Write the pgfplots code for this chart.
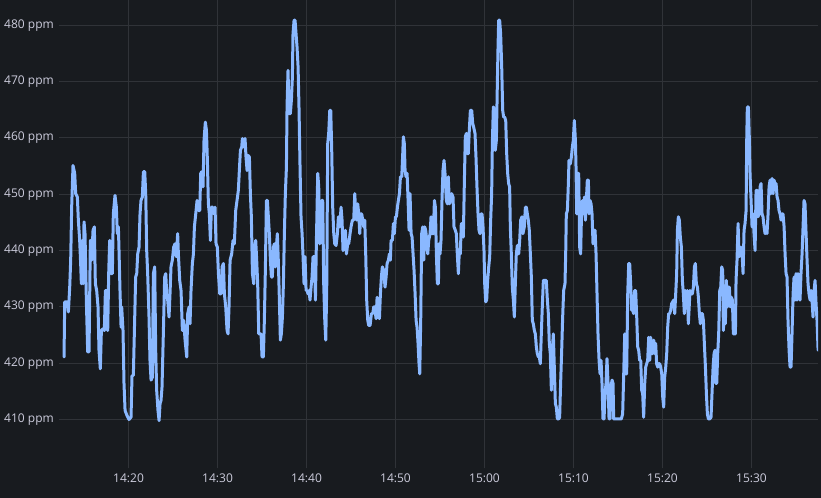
\documentclass[border=0pt]{standalone}
\usepackage{fontspec}
\setmainfont{Open Sans}
\usepackage{pgfplots}
\pgfplotsset{compat=1.18}
\definecolor{bgc}{HTML}{181B1F}
\definecolor{gridc}{HTML}{303338}
\definecolor{txtc}{HTML}{CCCCDC}
\definecolor{linec}{HTML}{8AB8FF}
\begin{document}
\begin{tikzpicture}
\fill[bgc] (-59.3pt,-29pt) rectangle (761.7pt,468pt);
\begin{axis}[
  at={(0pt,0pt)}, anchor=south west,
  scale only axis, width=758.7pt, height=468pt,
  xmin=12.22, xmax=97.47, ymin=401.3, ymax=484.4,
  axis line style={draw=none},
  major tick length=0pt,
  grid=major,
  major grid style={draw=gridc, line width=1pt},
  xtick={20,30,40,50,60,70,80,90},
  xticklabels={14:20,14:30,14:40,14:50,15:00,15:10,15:20,15:30},
  ytick={410,420,430,440,450,460,470,480},
  yticklabels={410 ppm,420 ppm,430 ppm,440 ppm,450 ppm,460 ppm,470 ppm,480 ppm},
  ticklabel style={font=\fontsize{12pt}{14pt}\selectfont, text=txtc},
  yticklabel style={xshift=-2pt},
  xticklabel style={yshift=-2pt},
  clip=true,
]
\addplot[linec, line width=3pt, line join=round, line cap=round, mark=none] table {
t v
12.75 421.1
12.83 430.9
13.13 430.9
13.24 429.1
13.39 433.5
13.5 438.3
13.61 447.7
13.76 455.1
13.95 453.7
14.06 450.1
14.25 449.5
14.36 445.4
14.51 441.8
14.62 437.7
14.7 434.1
14.81 441.8
14.89 434.1
15.0 445.1
15.11 443.0
15.26 431.2
15.41 422.0
15.56 422.0
15.71 441.8
15.86 438.3
16.01 443.6
16.16 444.2
16.27 434.1
16.42 432.9
16.57 430.0
16.68 422.3
16.83 419.0
16.95 425.8
17.13 426.1
17.28 425.8
17.4 432.9
17.55 432.9
17.66 425.8
17.77 435.9
17.88 441.8
18.03 435.9
18.18 435.9
18.29 446.5
18.48 449.8
18.63 447.7
18.74 443.0
18.86 444.2
18.93 440.0
19.04 432.9
19.16 426.4
19.23 430.0
19.38 425.8
19.49 416.4
19.61 411.6
19.83 410.7
20.05 410.0
20.28 410.4
20.39 417.8
20.54 417.8
20.65 425.2
20.8 435.3
20.92 435.9
21.03 439.4
21.18 440.6
21.29 446.5
21.4 448.9
21.55 449.5
21.67 454.0
21.82 454.0
21.93 450.1
22.04 440.0
22.15 435.9
22.3 428.2
22.41 420.5
22.53 417.0
22.68 417.5
22.79 435.9
22.94 437.1
23.05 422.3
23.16 415.2
23.31 411.6
23.43 409.8
23.54 412.8
23.65 413.4
23.76 415.7
23.91 425.2
24.06 435.3
24.18 435.9
24.29 432.3
24.4 431.2
24.55 428.2
24.66 432.3
24.77 437.1
24.92 438.3
25.07 440.6
25.22 441.2
25.37 438.9
25.52 443.0
25.6 439.4
25.75 434.7
25.9 432.9
26.05 425.8
26.2 427.6
26.35 424.1
26.54 421.1
26.65 428.8
26.8 430.0
26.91 427.0
27.02 432.9
27.17 437.7
27.29 439.4
27.4 444.2
27.55 446.5
27.7 448.9
27.85 447.1
28.0 447.1
28.11 453.7
28.22 454.0
28.37 451.3
28.48 459.6
28.63 462.8
28.75 461.4
28.86 456.0
28.97 448.3
29.08 446.5
29.2 441.8
29.31 447.7
29.46 447.7
29.61 446.5
29.72 447.7
29.83 441.2
29.98 440.6
30.1 435.9
30.25 432.3
30.39 432.3
30.51 437.1
30.66 437.7
30.77 432.3
30.92 430.0
31.07 425.8
31.18 425.2
31.29 430.0
31.41 438.3
31.59 439.4
31.74 441.8
31.89 441.2
32.04 447.1
32.19 448.9
32.34 450.7
32.45 454.2
32.57 457.8
32.72 458.4
32.79 459.9
32.94 458.4
33.09 459.9
33.2 456.6
33.32 454.2
33.43 456.9
33.58 456.6
33.69 450.1
33.8 446.0
33.92 435.9
34.07 434.1
34.18 440.6
34.29 441.8
34.4 438.3
34.51 434.1
34.63 425.2
34.78 425.2
34.89 425.2
35.0 421.1
35.15 421.1
35.26 427.6
35.38 437.1
35.49 448.9
35.6 448.9
35.71 446.0
35.82 443.0
35.94 438.3
36.05 435.3
36.16 435.3
36.28 440.6
36.39 441.2
36.5 437.1
36.61 440.6
36.72 443.0
36.84 437.7
36.95 431.2
37.06 424.1
37.17 425.2
37.29 428.2
37.4 434.1
37.51 443.0
37.62 450.1
37.74 454.8
37.81 465.5
37.92 472.0
38.04 464.3
38.18 464.3
38.3 466.7
38.41 470.8
38.48 478.5
38.6 480.9
38.71 480.9
38.82 478.5
38.93 476.2
39.05 472.6
39.16 464.9
39.27 454.8
39.38 446.0
39.5 443.0
39.61 438.9
39.72 434.1
39.83 438.9
39.95 432.9
40.06 432.9
40.17 432.3
40.28 432.9
40.39 431.2
40.51 433.5
40.62 435.3
40.73 438.9
40.88 438.9
41.0 431.2
41.11 441.8
41.26 453.7
41.37 451.3
41.48 441.2
41.6 441.8
41.71 448.9
41.82 448.9
41.93 434.1
42.05 427.6
42.16 424.1
42.27 433.5
42.38 459.0
42.49 460.8
42.61 464.9
42.72 464.9
42.83 457.8
42.94 447.7
43.06 443.0
43.17 441.2
43.32 440.9
43.47 443.0
43.58 446.0
43.73 444.2
43.88 447.7
43.99 445.4
44.1 440.0
44.25 440.6
44.37 443.6
44.48 439.4
44.63 441.2
44.74 441.2
44.89 443.0
45.0 444.2
45.15 445.4
45.3 445.4
45.42 450.1
45.53 446.5
45.64 445.4
45.75 448.3
45.87 446.5
45.98 443.0
46.09 446.5
46.2 446.5
46.31 445.4
46.43 444.2
46.54 445.4
46.65 439.4
46.76 431.2
46.88 427.6
46.99 426.7
47.14 426.7
47.29 428.8
47.44 428.8
47.55 430.0
47.66 430.0
47.81 427.9
47.93 431.7
48.04 430.0
48.19 427.9
48.3 432.3
48.41 435.3
48.52 437.1
48.67 436.5
48.82 433.5
48.94 435.3
49.05 437.7
49.2 438.3
49.31 439.4
49.42 438.3
49.5 441.8
49.65 441.8
49.76 444.8
49.87 443.0
49.99 446.0
50.1 446.0
50.21 447.7
50.32 448.9
50.44 450.1
50.55 453.1
50.7 453.1
50.81 457.2
50.88 460.2
50.99 459.0
51.07 454.2
51.18 453.1
51.3 453.7
51.41 448.9
51.52 443.6
51.63 450.1
51.75 443.0
51.86 442.4
51.97 439.4
52.08 436.5
52.2 432.3
52.31 427.6
52.42 426.4
52.53 423.5
52.64 419.9
52.72 418.1
52.83 427.6
52.94 443.0
53.06 444.2
53.17 438.3
53.28 444.2
53.39 443.6
53.51 441.8
53.62 439.4
53.73 441.8
53.88 443.0
53.99 446.0
54.1 443.0
54.25 443.0
54.37 448.9
54.48 447.7
54.59 439.4
54.7 434.1
54.82 434.1
54.88 441.2
55.0 439.4
55.11 441.8
55.22 448.9
55.33 454.2
55.45 456.0
55.56 453.7
55.71 448.9
55.82 448.3
55.93 453.1
56.05 448.3
56.16 448.9
56.31 450.1
56.46 449.5
56.57 444.2
56.72 443.6
56.83 443.0
56.94 439.4
57.06 435.9
57.17 440.0
57.28 439.4
57.39 444.8
57.5 443.0
57.62 442.4
57.73 451.9
57.84 460.2
57.96 460.8
58.07 457.2
58.18 457.2
58.29 461.4
58.41 464.9
58.56 464.9
58.67 462.6
58.78 461.9
58.93 460.8
59.04 456.6
59.15 451.3
59.27 446.5
59.38 443.6
59.49 443.0
59.6 446.5
59.72 446.5
59.83 444.2
59.94 440.0
60.02 434.1
60.13 430.9
60.24 431.2
60.35 434.7
60.47 437.1
60.58 438.9
60.69 445.4
60.8 450.1
60.88 459.0
60.99 465.5
61.1 464.9
61.21 457.8
61.33 459.6
61.44 469.6
61.51 475.6
61.59 480.9
61.7 480.9
61.81 478.5
61.93 472.6
62.04 464.9
62.15 463.7
62.26 463.7
62.38 463.1
62.49 457.2
62.6 453.7
62.71 451.9
62.82 451.3
62.9 444.2
63.01 439.4
63.12 433.5
63.24 431.2
63.35 428.2
63.46 434.1
63.57 439.4
63.69 440.9
63.84 439.4
63.95 441.8
64.06 445.4
64.21 446.0
64.32 443.0
64.47 444.2
64.59 447.7
64.7 447.7
64.81 446.5
64.92 445.4
65.03 443.6
65.15 439.4
65.26 435.3
65.37 427.6
65.48 427.0
65.6 425.8
65.71 425.2
65.82 422.9
65.93 421.7
66.05 421.1
66.16 421.1
66.27 419.9
66.38 425.2
66.49 430.0
66.61 434.7
66.72 434.7
66.83 434.7
66.94 434.7
67.06 431.2
67.17 428.8
67.28 423.5
67.39 421.7
67.51 415.2
67.62 422.3
67.73 425.2
67.84 419.3
67.96 412.8
68.07 412.2
68.18 410.1
68.33 410.1
68.44 410.4
68.55 416.4
68.67 422.3
68.78 428.2
68.89 432.9
69.04 434.1
69.12 439.4
69.19 446.5
69.31 447.1
69.42 451.9
69.49 456.0
69.64 455.4
69.76 456.6
69.87 458.4
69.98 459.6
70.09 463.1
70.21 459.6
70.28 454.8
70.36 446.5
70.47 453.7
70.58 453.7
70.69 440.6
70.8 439.4
70.92 448.3
71.03 448.9
71.14 446.5
71.22 449.5
71.33 445.4
71.44 448.9
71.55 452.5
71.67 452.5
71.74 446.5
71.85 448.9
71.97 448.3
72.08 446.5
72.19 441.2
72.3 443.6
72.42 443.6
72.53 439.4
72.64 432.3
72.75 425.2
72.87 420.5
72.98 418.1
73.09 420.5
73.2 416.4
73.31 410.1
73.43 410.1
73.54 414.6
73.65 416.4
73.76 420.8
73.88 416.4
73.99 410.1
74.1 410.1
74.21 415.8
74.33 417.0
74.44 416.4
74.51 410.1
74.66 410.1
75.0 410.1
75.37 410.1
75.52 411.0
75.64 418.1
75.75 425.2
75.86 418.1
75.97 418.1
76.09 432.3
76.2 437.7
76.31 437.7
76.42 434.1
76.54 429.4
76.65 429.4
76.76 428.8
76.87 432.9
76.98 432.9
77.1 428.2
77.21 422.9
77.32 422.3
77.43 420.5
77.55 420.5
77.66 415.2
77.77 414.6
77.88 410.4
78.0 416.4
78.11 419.3
78.22 419.9
78.33 420.5
78.45 424.6
78.56 420.5
78.67 424.6
78.78 421.7
78.89 421.7
79.01 424.1
79.12 421.7
79.23 423.5
79.34 419.9
79.46 419.3
79.57 419.9
79.68 419.9
79.79 419.3
79.91 418.1
80.02 414.0
80.13 412.2
80.24 417.5
80.36 419.3
80.47 421.7
80.58 426.4
80.69 428.8
80.8 428.8
80.92 429.4
81.03 430.6
81.14 430.9
81.25 431.2
81.37 428.8
81.48 432.3
81.59 435.9
81.67 443.6
81.78 446.0
81.89 445.4
82.0 442.4
82.12 440.6
82.23 434.7
82.34 432.3
82.45 428.8
82.56 432.9
82.68 431.7
82.79 432.9
82.9 427.0
83.09 432.9
83.24 432.3
83.35 432.3
83.47 433.5
83.58 437.1
83.69 437.7
83.8 434.1
83.92 433.5
84.03 431.7
84.14 428.8
84.25 427.0
84.37 428.8
84.48 428.8
84.59 427.6
84.7 423.5
84.82 419.3
84.93 414.6
85.04 411.0
85.15 410.1
85.3 410.1
85.45 410.4
85.56 414.6
85.68 419.3
85.79 421.7
85.9 422.3
85.98 416.4
86.09 416.4
86.2 421.7
86.31 425.2
86.43 432.9
86.54 433.5
86.65 437.1
86.76 436.5
86.84 425.8
86.95 431.2
87.06 427.0
87.17 434.7
87.29 430.0
87.4 433.5
87.51 433.5
87.62 430.0
87.74 431.7
87.85 431.2
87.96 425.2
88.07 425.2
88.19 425.2
88.26 434.7
88.37 438.3
88.49 444.8
88.6 438.9
88.71 439.4
88.82 440.6
88.94 439.4
89.05 435.9
89.16 443.6
89.27 444.8
89.39 447.1
89.46 459.6
89.53 465.5
89.65 465.5
89.76 459.6
89.83 453.7
89.95 448.9
90.06 444.2
90.17 446.5
90.28 443.0
90.4 440.0
90.51 450.7
90.62 450.7
90.73 446.0
90.85 446.5
90.96 451.3
91.07 451.9
91.18 446.5
91.29 446.0
91.41 444.2
91.52 443.0
91.63 444.2
91.74 443.0
91.86 446.5
91.97 451.3
92.08 452.5
92.19 450.1
92.31 452.8
92.42 450.1
92.53 452.5
92.64 451.9
92.76 451.9
92.87 449.5
92.98 448.9
93.09 447.1
93.21 446.5
93.32 445.4
93.43 446.5
93.54 446.5
93.66 444.2
93.77 439.4
93.88 435.9
93.99 435.3
94.1 427.6
94.22 422.3
94.33 419.3
94.44 419.3
94.55 425.2
94.67 432.3
94.78 435.3
94.89 431.2
95.0 435.9
95.11 431.2
95.23 435.9
95.34 433.5
95.45 431.2
95.56 435.9
95.68 439.4
95.79 444.2
95.9 448.9
96.01 448.3
96.13 443.0
96.24 438.3
96.35 434.1
96.46 432.3
96.58 431.2
96.69 432.9
96.8 431.2
96.91 428.2
97.03 432.9
97.14 434.7
97.25 430.6
97.36 427.6
97.48 422.3
};
\end{axis}
\end{tikzpicture}
\end{document}
